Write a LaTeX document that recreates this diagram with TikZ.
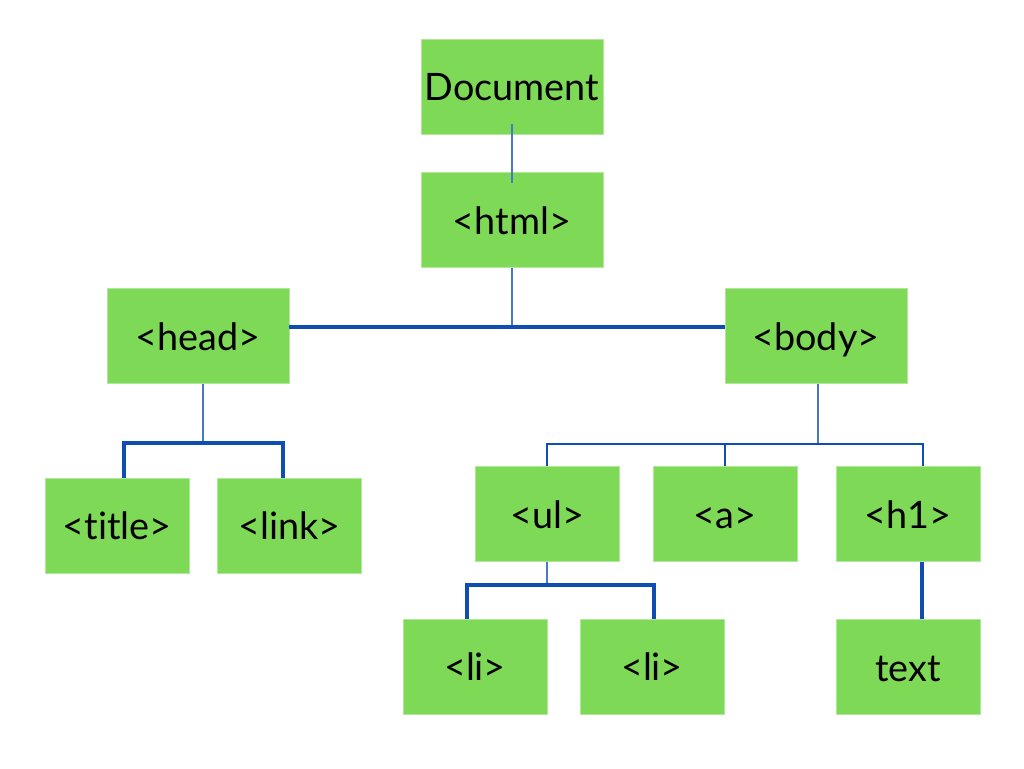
\documentclass[tikz,border=0pt]{standalone}
\usepackage{fontspec}
\setmainfont{Lato}[Ligatures={NoCommon,NoRequired,NoContextual}]
\usetikzlibrary{positioning}
\definecolor{tagfill}{RGB}{126,217,87}
\definecolor{linkthin}{RGB}{70,122,200}
\definecolor{linkbus}{RGB}{14,78,178}

\begin{document}
\begin{tikzpicture}[
    x=0.02cm, y=-0.02cm,
    tag/.style={rectangle, fill=tagfill, draw=tagfill!60!white, line width=0.4pt, minimum height=1.9cm, minimum width=2.88cm, align=center, inner sep=0pt, text height=0.56cm, text depth=0pt},
    wide/.style={tag, minimum width=3.64cm},
    twig/.style={draw=linkthin, line width=0.8pt},
    bus/.style={draw=linkbus, line width=1.9pt},
    midbus/.style={draw=linkbus, line width=1.3pt},
    node distance=0.76cm,
    every node/.append style={font=\fontsize{21.5}{25}\selectfont}
]
    \useasboundingbox[fill=white] (0,0) rectangle (1024,768);

    % tree of tags
    \node[wide] (doc) at (512,86.5) {Document};
    \node[wide, below=of doc] (html) {<html>};
    \node[wide] (head) at (198,336) {<head>};
    \node[wide] (body) at (816,336) {<body>};
    \node[tag] (title) at (117,525.5) {<title>};
    \node[tag, right=0.56cm of title] (link) {<link>};
    \node[tag] (ul) at (547,514) {<ul>};
    \node[tag] (a) at (725,514) {<a>};
    \node[tag] (h1) at (908,514) {<h1>};
    \node[tag] (li1) at (475,666.5) {<li>};
    \node[tag] (li2) at (652,666.5) {<li>};
    \node[tag, below=1.15cm of h1] (text) {text};

    % junction points
    \coordinate (hbus) at (512,327);
    \coordinate (headj) at (203,443);
    \coordinate (titlej) at (124,443);
    \coordinate (linkj) at (283,443);
    \coordinate (bodyj) at (818,444);
    \coordinate (h1j) at (923,444);
    \coordinate (ulj) at (547,585);
    \coordinate (li1j) at (467,585);
    \coordinate (li2j) at (654,585);

    % connectors
    \draw[twig] ([yshift=0.2cm]doc.south) -- ([yshift=-0.22cm]html.north);
    \draw[twig] (html.south) -- (hbus);
    \draw[bus] (head.east |- hbus) -- (body.west |- hbus);

    \draw[twig] (headj |- head.south) -- (headj);
    \draw[bus] (titlej |- title.north) -- (titlej) -- (linkj) -- (linkj |- link.north);

    \draw[twig] (bodyj |- body.south) -- (bodyj);
    \draw[midbus] (ul.north) |- (h1j) -- (h1j |- h1.north);
    \draw[midbus] (a.north) -- (a.north |- bodyj);

    \draw[twig] (ul.south) -- (ulj);
    \draw[bus] (li1j |- li1.north) -- (li1j) -- (li2j) -- (li2j |- li2.north);

    \draw[bus] ([xshift=0.28cm]h1.south) -- ([xshift=0.28cm]text.north);
\end{tikzpicture}
\end{document}
